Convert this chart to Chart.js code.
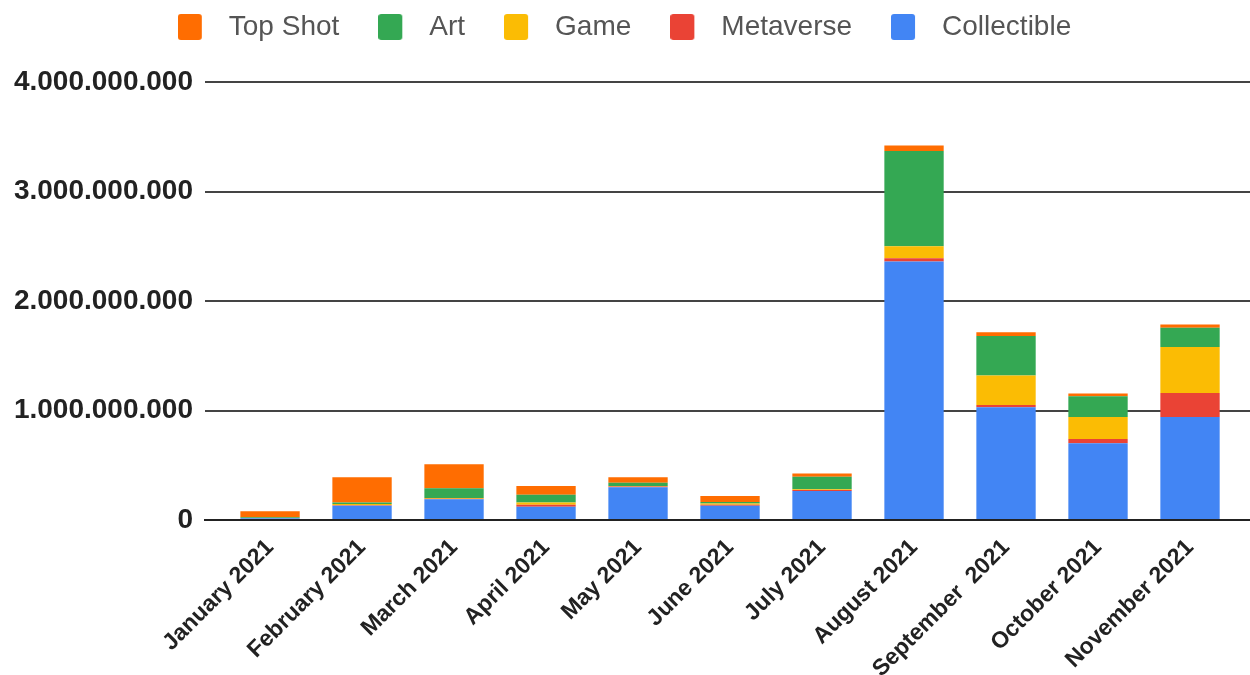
<!DOCTYPE html>
<html><head><meta charset="utf-8">
<script src="https://cdn.jsdelivr.net/npm/chart.js@4.4.0/dist/chart.umd.min.js"></script>
<style>html,body{margin:0;padding:0;background:#fff}#wrap{width:1250px;height:675px;position:relative}</style>
</head><body><div id="wrap"><canvas id="c"></canvas></div>
<script>
const categories = ['January 2021','February 2021','March 2021','April 2021','May 2021','June 2021','July 2021','August 2021','September  2021','October 2021','November 2021'];
const collectible = [15e6, 130e6, 190e6, 120e6, 300e6, 130e6, 265e6, 2360e6, 1030e6, 700e6, 940e6];
const metaverse   = [2e6, 5e6, 5e6, 20e6, 5e6, 10e6, 10e6, 30e6, 20e6, 40e6, 220e6];
const game        = [2e6, 10e6, 5e6, 20e6, 5e6, 10e6, 5e6, 110e6, 270e6, 200e6, 420e6];
const art         = [5e6, 15e6, 90e6, 70e6, 30e6, 15e6, 115e6, 870e6, 360e6, 190e6, 175e6];
const topShot     = [56e6, 230e6, 220e6, 80e6, 50e6, 55e6, 30e6, 50e6, 35e6, 25e6, 30e6];
const yTicks = [0, 1e9, 2e9, 3e9, 4e9];

const COLORS = {collectible:'#4285F4', metaverse:'#EA4335', game:'#FBBC04', art:'#34A853', topShot:'#FF6D01'};

function fmt(v){ return String(Math.round(v)).replace(/\B(?=(\d{3})+(?!\d))/g, '.'); }
function pts(arr){ return arr.map((v,i)=>({x:i, y:v})); }
function swatch(color){
  const c = document.createElement('canvas');
  c.width = 38; c.height = 26;
  const g = c.getContext('2d');
  g.fillStyle = color;
  g.beginPath();
  if (g.roundRect) g.roundRect(0, 0, 24, 26, 3); else g.rect(0, 0, 24, 26);
  g.fill();
  return c;
}

const ctx = document.getElementById('c');
new Chart(ctx, {
  type: 'bar',
  data: {
    datasets: [
      {label:'Collectible', data: pts(collectible), backgroundColor: COLORS.collectible, pointStyle: swatch(COLORS.collectible)},
      {label:'Metaverse', data: pts(metaverse), backgroundColor: COLORS.metaverse, pointStyle: swatch(COLORS.metaverse)},
      {label:'Game', data: pts(game), backgroundColor: COLORS.game, pointStyle: swatch(COLORS.game)},
      {label:'Art', data: pts(art), backgroundColor: COLORS.art, pointStyle: swatch(COLORS.art)},
      {label:'Top Shot', data: pts(topShot), backgroundColor: COLORS.topShot, pointStyle: swatch(COLORS.topShot)}
    ]
  },
  options: {
    responsive: true,
    maintainAspectRatio: false,
    animation: false,
    layout: {padding: {top: -27, left: 0, right: 0, bottom: 0}},
    datasets: {bar: {categoryPercentage: 1, barPercentage: 0.645, borderWidth: 0}},
    plugins: {
      tooltip: {enabled: false},
      legend: {
        reverse: true,
        weight: 1000,
        labels: {
          font: {family: 'Liberation Sans', size: 28},
          color: '#555',
          usePointStyle: true,
          pointStyleWidth: 36,
          boxHeight: 26,
          padding: 40
        }
      },
      title: {
        display: true,
        text: '',
        weight: 500,
        font: {size: 10, lineHeight: 1},
        padding: {top: 0, bottom: 21}
      }
    },
    scales: {
      x: {
        type: 'linear',
        stacked: true,
        offset: false,
        min: -0.707,
        max: 10.652,
        afterBuildTicks: s => { s.ticks = categories.map((c,i)=>({value:i})); },
        afterFit: s => { s.height = 155; },
        ticks: {
          autoSkip: false,
          maxRotation: 45,
          minRotation: 45,
          padding: 14,
          callback: v => categories[v],
          font: {family: 'Liberation Sans', size: 23, weight: 'bold'},
          color: '#222'
        },
        grid: {display: false, drawTicks: false, offset: false},
        border: {display: true, color: '#222', width: 2}
      },
      y: {
        stacked: true,
        min: 0,
        max: 4e9,
        afterBuildTicks: s => { s.ticks = yTicks.map(v=>({value:v})); },
        afterFit: s => { s.width = 205; },
        ticks: {
          padding: 12,
          callback: v => fmt(v),
          font: {family: 'Liberation Sans', size: 28, weight: 'bold'},
          color: '#222'
        },
        grid: {color: '#444', lineWidth: 2, drawTicks: false},
        border: {display: false}
      }
    }
  }
});
</script>
</body></html>
